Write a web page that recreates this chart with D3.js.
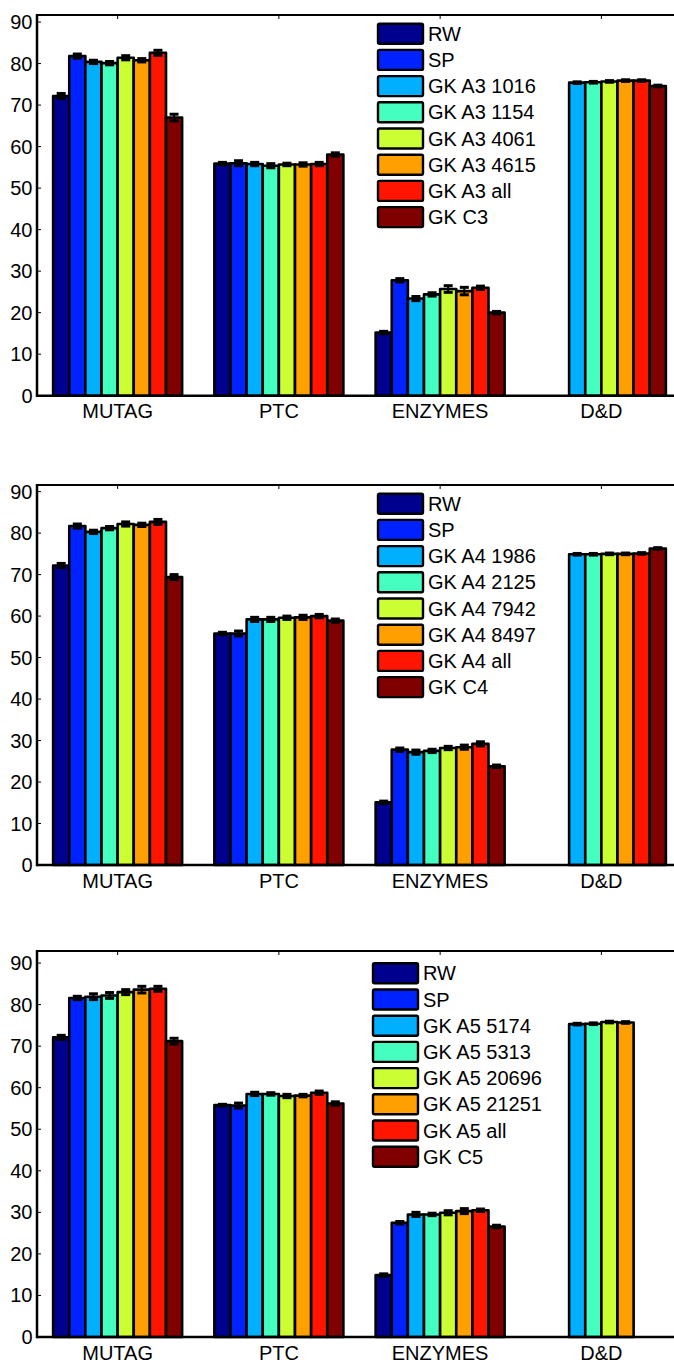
<!DOCTYPE html>
<html>
<head>
<meta charset="utf-8">
<script src="https://cdn.jsdelivr.net/npm/d3@7"></script>
<style>
  body { margin: 0; background: #fff; }
  text { font-family: "Liberation Sans", Arial, sans-serif; font-size: 20px; fill: #000; }
</style>
</head>
<body>
<svg id="chart" width="674" height="1363"></svg>
<script>
// datasets on the x axis
var groups = ["MUTAG", "PTC", "ENZYMES", "D&D"];
var yTicks = [0, 10, 20, 30, 40, 50, 60, 70, 80, 90];

// jet colours, one per method
var colors = ["#00008f", "#0022ff", "#00b0ff", "#44ffc0", "#ccff33", "#ffa000", "#ff1500", "#800000"];

var names3 = ["RW", "SP", "GK A3 1016", "GK A3 1154", "GK A3 4061", "GK A3 4615", "GK A3 all", "GK C3"];
var names4 = ["RW", "SP", "GK A4 1986", "GK A4 2125", "GK A4 7942", "GK A4 8497", "GK A4 all", "GK C4"];
var names5 = ["RW", "SP", "GK A5 5174", "GK A5 5313", "GK A5 20696", "GK A5 21251", "GK A5 all", "GK C5"];

// accuracy per dataset (rows) and method (columns); null = no result
var acc3 = [
  [72.2, 81.8, 80.4, 80.1, 81.4, 80.8, 82.6, 67.0],
  [55.9, 56.0, 55.8, 55.4, 55.7, 55.7, 55.8, 58.1],
  [15.2, 27.8, 23.4, 24.4, 25.7, 25.2, 26.0, 20.0],
  [null, null, 75.4, 75.5, 75.7, 75.9, 75.9, 74.6]
];
var err3 = [
  [0.6, 0.5, 0.4, 0.4, 0.5, 0.4, 0.6, 0.8],
  [0.3, 0.6, 0.4, 0.5, 0.3, 0.4, 0.4, 0.4],
  [0.3, 0.4, 0.5, 0.4, 0.8, 0.9, 0.4, 0.3],
  [null, null, 0.2, 0.2, 0.2, 0.2, 0.2, 0.2]
];

var acc4 = [
  [72.2, 81.7, 80.3, 81.2, 82.2, 82.0, 82.7, 69.4],
  [55.8, 55.8, 59.2, 59.2, 59.6, 59.7, 60.0, 58.9],
  [15.1, 27.8, 27.2, 27.5, 28.2, 28.4, 29.2, 23.8],
  [0, 0, 74.9, 74.9, 75.0, 75.0, 75.1, 76.3]
];
var err4 = [
  [0.5, 0.5, 0.4, 0.4, 0.5, 0.4, 0.6, 0.6],
  [0.3, 0.6, 0.5, 0.5, 0.4, 0.5, 0.4, 0.4],
  [0.3, 0.4, 0.5, 0.4, 0.4, 0.5, 0.5, 0.3],
  [0, 0, 0.2, 0.2, 0.2, 0.2, 0.2, 0.2]
];

var acc5 = [
  [72.1, 81.6, 81.9, 82.2, 83.0, 83.6, 83.8, 71.2],
  [55.8, 55.7, 58.5, 58.5, 58.0, 58.1, 58.8, 56.2],
  [14.9, 27.5, 29.5, 29.5, 29.9, 30.3, 30.5, 26.6],
  [75.3, 75.4, 75.8, 75.7, null, null, null, null]
];
var err5 = [
  [0.5, 0.4, 0.7, 0.7, 0.6, 0.8, 0.6, 0.7],
  [0.2, 0.6, 0.4, 0.3, 0.4, 0.3, 0.4, 0.4],
  [0.3, 0.3, 0.5, 0.3, 0.5, 0.6, 0.3, 0.3],
  [0.2, 0.2, 0.2, 0.2, null, null, null, null]
];
// D&D in the A5 panel only has the four GK subsets, shifted to slots 3..6
var ddSlots5 = [2, 3, 4, 5];

var svg = d3.select("#chart");

var panels = [
  { top: 15,  bottom: 395.7, ymax: 91.7, names: names3, acc: acc3, err: err3, legX: 378, legY: 33.7 },
  { top: 485, bottom: 865,   ymax: 91.6, names: names4, acc: acc4, err: err4, legX: 378, legY: 503.7 },
  { top: 951, bottom: 1337,  ymax: 92.9, names: names5, acc: acc5, err: err5, legX: 373, legY: 973.3 }
];

var x = d3.scaleLinear().domain([0.5, 4.5]).range([37, 682]);
var slot = (x(2) - x(1)) * 0.8 / 8;

panels.forEach(function (p, pi) {
  var y = d3.scaleLinear().domain([0, p.ymax]).range([p.bottom, p.top]);
  var g = svg.append("g");

  // flatten bars
  var bars = [];
  p.acc.forEach(function (row, gi) {
    row.forEach(function (v, si) {
      if (v === null) return;
      var slotIdx = si;
      if (pi === 2 && gi === 3) slotIdx = ddSlots5[si];
      bars.push({ g: gi, s: slotIdx, c: slotIdx, v: v, e: p.err[gi][si] });
    });
  });

  g.selectAll("rect.bar")
    .data(bars)
    .join("rect")
    .attr("class", "bar")
    .attr("x", function (d) { return x(d.g + 1) - 4 * slot + d.s * slot; })
    .attr("width", slot)
    .attr("y", function (d) { return y(d.v); })
    .attr("height", function (d) { return y(0) - y(d.v); })
    .attr("fill", function (d) { return colors[d.c]; })
    .attr("stroke", "#000")
    .attr("stroke-width", 2.6)
    .attr("stroke-linejoin", "round");

  // error bars
  var eb = g.selectAll("g.err")
    .data(bars.filter(function (d) { return d.v > 0; }))
    .join("g")
    .attr("class", "err")
    .attr("transform", function (d) { return "translate(" + (x(d.g + 1) - 4 * slot + (d.s + 0.5) * slot) + ",0)"; });
  eb.append("line")
    .attr("y1", function (d) { return y(d.v - d.e); })
    .attr("y2", function (d) { return y(d.v + d.e); })
    .attr("stroke", "#000").attr("stroke-width", 2);
  eb.append("line")
    .attr("x1", -4.5).attr("x2", 4.5)
    .attr("y1", function (d) { return y(d.v + d.e); })
    .attr("y2", function (d) { return y(d.v + d.e); })
    .attr("stroke", "#000").attr("stroke-width", 3);
  eb.append("line")
    .attr("x1", -4.5).attr("x2", 4.5)
    .attr("y1", function (d) { return y(d.v - d.e); })
    .attr("y2", function (d) { return y(d.v - d.e); })
    .attr("stroke", "#000").attr("stroke-width", 3);

  // axes box
  g.append("line").attr("x1", 37).attr("x2", 682).attr("y1", p.top).attr("y2", p.top)
    .attr("stroke", "#000").attr("stroke-width", 2);
  g.append("line").attr("x1", 37).attr("x2", 682).attr("y1", p.bottom).attr("y2", p.bottom)
    .attr("stroke", "#000").attr("stroke-width", 2.5);
  g.append("line").attr("x1", 37).attr("x2", 37).attr("y1", p.top - 1).attr("y2", p.bottom + 1.2)
    .attr("stroke", "#000").attr("stroke-width", 2.5);

  // y ticks
  g.selectAll("line.yt").data(yTicks).join("line").attr("class", "yt")
    .attr("x1", 37).attr("x2", 41)
    .attr("y1", function (d) { return y(d); }).attr("y2", function (d) { return y(d); })
    .attr("stroke", "#000").attr("stroke-width", 1);
  g.selectAll("text.yl").data(yTicks).join("text").attr("class", "yl")
    .attr("x", 32.5).attr("y", function (d) { return y(d) + 7; })
    .attr("text-anchor", "end")
    .text(function (d) { return d; });

  // x ticks and labels
  g.selectAll("line.xt").data(groups).join("line").attr("class", "xt")
    .attr("x1", function (d, i) { return x(i + 1); }).attr("x2", function (d, i) { return x(i + 1); })
    .attr("y1", p.top).attr("y2", p.top + 4)
    .attr("stroke", "#000").attr("stroke-width", 1);
  g.selectAll("text.xl").data(groups).join("text").attr("class", "xl")
    .attr("x", function (d, i) { return x(i + 1); })
    .attr("y", p.bottom + 22.5)
    .attr("text-anchor", "middle")
    .text(function (d) { return d; });

  // legend
  var leg = g.selectAll("g.leg").data(p.names).join("g").attr("class", "leg")
    .attr("transform", function (d, i) { return "translate(" + p.legX + "," + (p.legY + i * 26.2) + ")"; });
  leg.append("rect")
    .attr("x", 0).attr("y", -10).attr("width", 45).attr("height", 20)
    .attr("rx", 1.5)
    .attr("fill", function (d, i) { return colors[i]; })
    .attr("stroke", "#000").attr("stroke-width", 2.4);
  leg.append("text")
    .attr("x", 50).attr("y", 7)
    .text(function (d) { return d; });
});
</script>
</body>
</html>
